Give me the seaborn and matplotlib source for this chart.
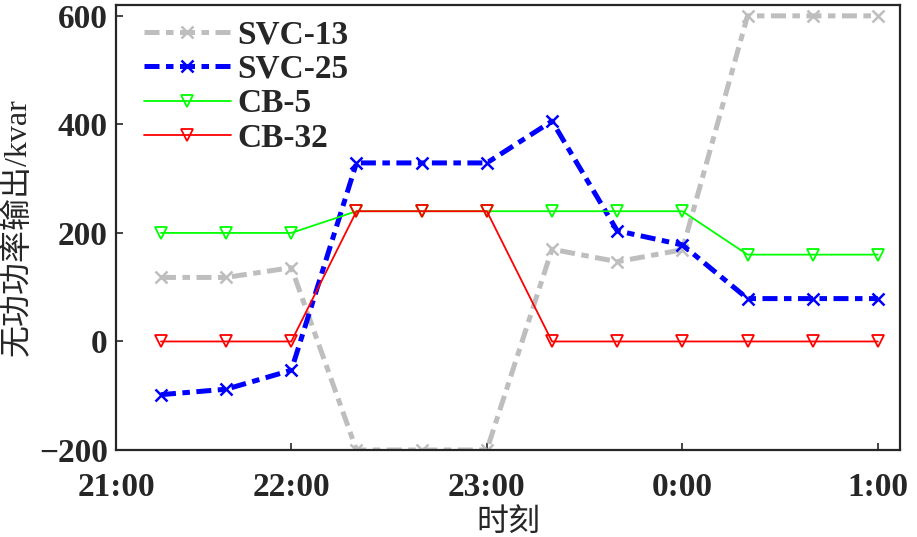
import matplotlib
matplotlib.use("Agg")
import matplotlib.pyplot as plt
import seaborn as sns
import pandas as pd

# minutes after 21:00
minutes = [20, 40, 60, 80, 100, 120, 140, 160, 180, 200, 220, 240]
svc13 = [118, 118, 136, -200, -200, -200, 170, 147, 169, 600, 600, 600]
svc25 = [-98, -88, -53, 329, 329, 329, 406, 204, 178, 79, 79, 79]
cb5 = [200, 200, 200, 240, 240, 240, 240, 240, 240, 160, 160, 160]
cb32 = [0, 0, 0, 240, 240, 240, 0, 0, 0, 0, 0, 0]
tick_pos = [60, 120, 180, 240]
tick_labels = ["21:00", "22:00", "23:00", "0:00", "1:00"]

sns.set_style("ticks")
plt.rcParams['font.family'] = ['Liberation Serif', 'Noto Sans CJK SC']
plt.rcParams['xtick.direction'] = 'in'
plt.rcParams['ytick.direction'] = 'in'
plt.rcParams['axes.linewidth'] = 1.6

fig = plt.figure(figsize=(9.17, 5.37), dpi=100)
ax = fig.add_axes([0.1265, 0.162, 0.855, 0.8287])

df = pd.DataFrame({'t': minutes, 'SVC-13': svc13, 'SVC-25': svc25,
                   'CB-5': cb5, 'CB-32': cb32})

dash = [3.0, 1.3, 1.5, 1.3]
sns.lineplot(data=df, x='t', y='SVC-13', ax=ax, color='#bebebe', lw=3.6,
             marker='x', markersize=8, mew=1.8, mec='#bebebe', label='SVC-13')
sns.lineplot(data=df, x='t', y='SVC-25', ax=ax, color='#0000ff', lw=3.6,
             marker='x', markersize=8, mew=1.8, mec='#0000ff', label='SVC-25')
sns.lineplot(data=df, x='t', y='CB-5', ax=ax, color='#00ff00', lw=1.3,
             marker='v', markersize=8, mfc='none', mec='#00ff00', mew=1.3,
             label='CB-5')
sns.lineplot(data=df, x='t', y='CB-32', ax=ax, color='#ff0000', lw=1.3,
             marker='v', markersize=8, mfc='none', mec='#ff0000', mew=1.3,
             label='CB-32')
for line in ax.lines[:2]:
    line.set_dashes(dash)

xmin, xmax = 6.2, 246.8
ax.set_xlim(xmin, xmax)
ax.set_ylim(-200, 620)
ax.set_xticks([xmin] + tick_pos)
ax.set_xticklabels(tick_labels, fontweight='bold')
ax.set_yticks([-200, 0, 200, 400, 600])
ax.set_yticklabels(['\u2212200', '0', '200', '400', '600'], fontweight='bold')
ax.tick_params(labelsize=24, length=5, width=1.2)
ax.tick_params(axis='x', pad=16)
ax.tick_params(axis='y', pad=6)
for s in ax.spines.values():
    s.set_visible(True)
ax.set_xlabel('时刻', fontsize=23, labelpad=4)
ax.set_ylabel('无功功率输出/kvar', fontsize=23, labelpad=4)

leg = ax.legend(loc='upper left', frameon=False,
                prop={'size': 24, 'weight': 'bold'},
                handlelength=2.6, handletextpad=0.2, labelspacing=0.1,
                borderaxespad=0.2, bbox_to_anchor=(0.01, 1.012))
for h in leg.get_lines()[:2]:
    h.set_dashes(dash)

fig.savefig('out.png', dpi=100)
